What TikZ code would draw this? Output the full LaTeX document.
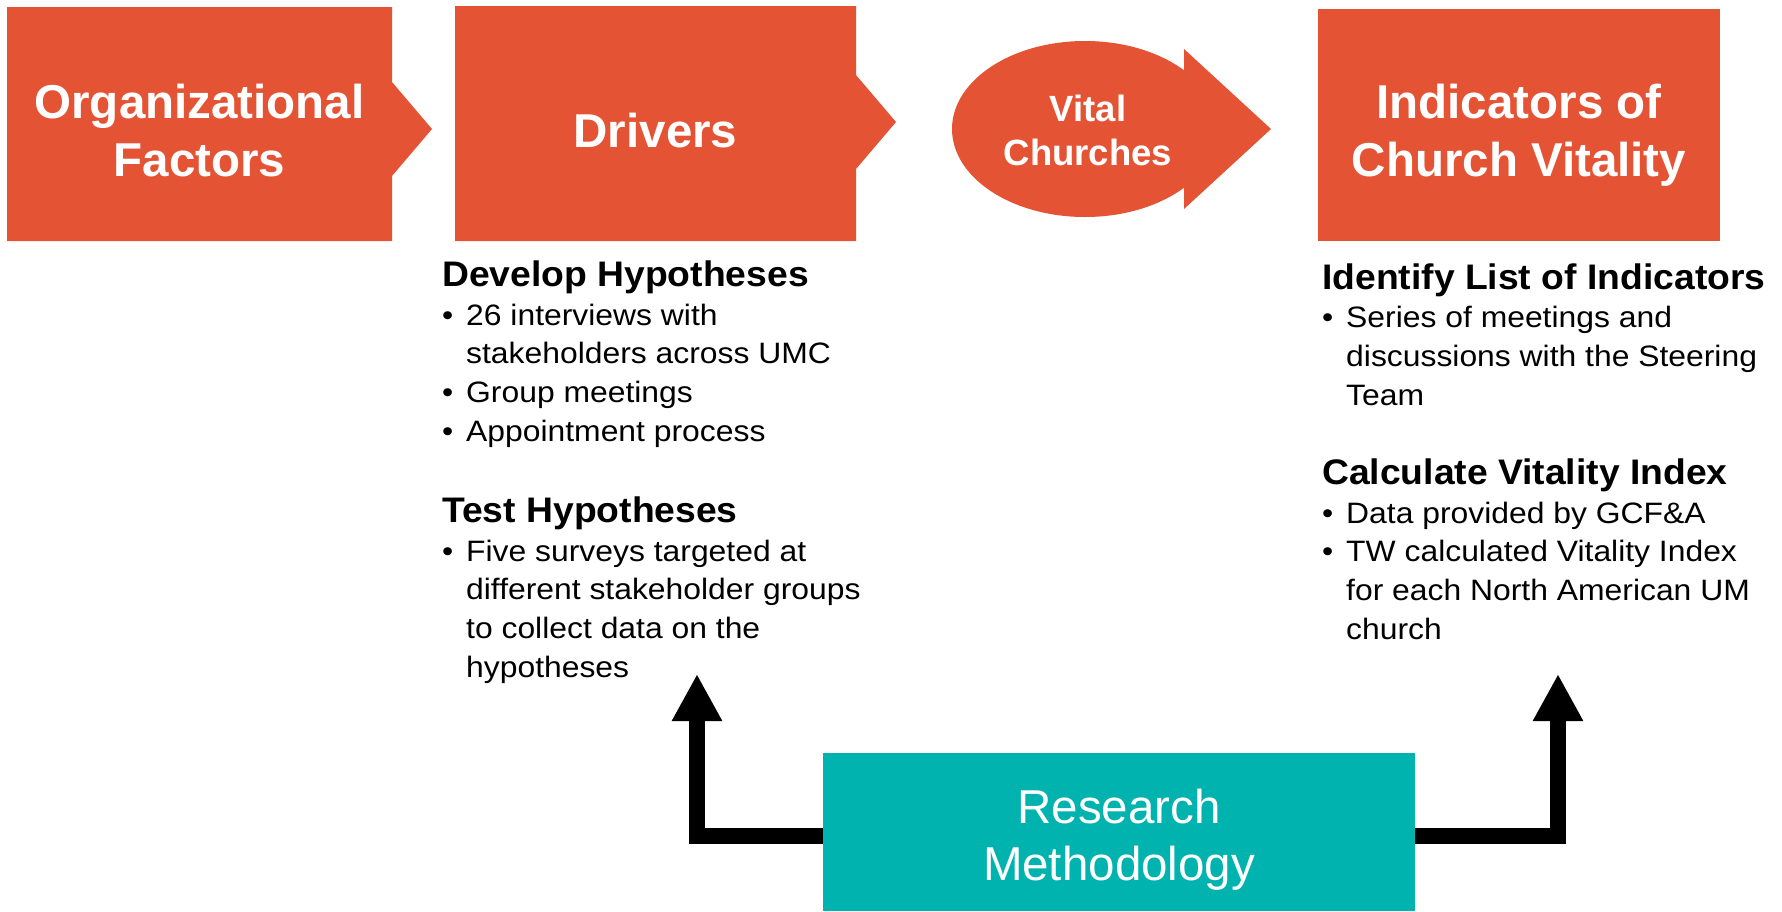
\documentclass[tikz,border=0pt]{standalone}
\usepackage{fontspec}
\setmainfont{Liberation Sans}
\newfontfamily\bodyfont[FakeStretch=1.08]{Liberation Sans}
\newfontfamily\headfont[FakeStretch=1.05]{Liberation Sans}
\usetikzlibrary{arrows.meta}
\definecolor{flame}{RGB}{229,83,53}
\definecolor{teal}{RGB}{0,179,174}
\newcommand{\bitem}{\makebox[24pt][l]{•}}
\newcommand{\bcont}{\hspace*{24pt}}
\newcommand{\blockhead}[1]{{\headfont\bfseries\fontsize{35.5}{38.6}\selectfont #1}}
\begin{document}
\begin{tikzpicture}[x=1pt,y=-1pt,
  shapefill/.style={fill=flame,draw=none},
  titletext/.style={text=white,align=center,inner sep=0pt,anchor=base,
    font=\bfseries\fontsize{47.5}{58}\selectfont},
  blocktext/.style={align=left,inner sep=0pt,anchor=base west,
    font=\bodyfont\fontsize{29.5}{38.6}\selectfont},
  conn/.style={line width=16pt,-{Triangle[length=47pt,width=47pt]}}]
\useasboundingbox (0,0) rectangle (1782,911);

% chevron-shaped stage boxes
\fill[shapefill] (7,7) -- (392,7) -- (392,82) -- (432,129) -- (392,176)
  -- (392,241) -- (7,241) -- cycle;
\fill[shapefill] (455,6) -- (856,6) -- (856,75) -- (896,122) -- (856,169)
  -- (856,241) -- (455,241) -- cycle;
% round arrow for the outcome stage
\fill[shapefill] (1085,129) ellipse [x radius=133, y radius=88];
\fill[shapefill] (1184,49) -- (1271,129) -- (1184,209) -- cycle;
% final box
\fill[shapefill] (1318,9) rectangle (1720,241);

% multi-line nodes are anchored at the baseline of their last line
\node[titletext] (org) at (199.5,176) {Organizational\\Factors};
\node[titletext] (drv) at (655.5,147) {Drivers};
\node[titletext,font=\bfseries\fontsize{36.5}{44}\selectfont] (vital) at (1088,165) {Vital\\Churches};
\node[titletext] (ind) at (1519,176) {Indicators of\\Church Vitality};

% method descriptions
\node[blocktext] (hypo) at (442,677) {%
  \blockhead{Develop Hypotheses}\\
  \bitem 26 interviews with\\
  \bcont stakeholders across UMC\\
  \bitem Group meetings\\
  \bitem Appointment process\\[43pt]
  \blockhead{Test Hypotheses}\\
  \bitem Five surveys targeted at\\
  \bcont different stakeholder groups\\
  \bcont to collect data on the\\
  \bcont hypotheses};
\node[blocktext] (indic) at (1322,639) {%
  \blockhead{Identify List of Indicators}\\
  \bitem Series of meetings and\\
  \bcont discussions with the Steering\\
  \bcont Team\\[41pt]
  \blockhead{Calculate Vitality Index}\\
  \bitem Data provided by GCF\&A\\
  \bitem TW calculated Vitality Index\\
  \bcont for each North American UM\\
  \bcont church};

% research methodology box and its connectors
\coordinate (tipL) at (697,674);
\coordinate (tipR) at (1558,674);
\node[fill=teal,minimum width=592pt,minimum height=158pt,inner sep=0pt] (rm) at (1119,832) {};
\draw[conn] ([yshift=-4pt]rm.west) -| (tipL);
\draw[conn] ([yshift=-4pt]rm.east) -| (tipR);
\node[fill=teal,minimum width=592pt,minimum height=158pt,inner sep=0pt] at (rm.center) {};
\node[titletext,font=\fontsize{47.5}{57}\selectfont] (rmtext) at (1119,880) {Research\\Methodology};
\end{tikzpicture}
\end{document}
